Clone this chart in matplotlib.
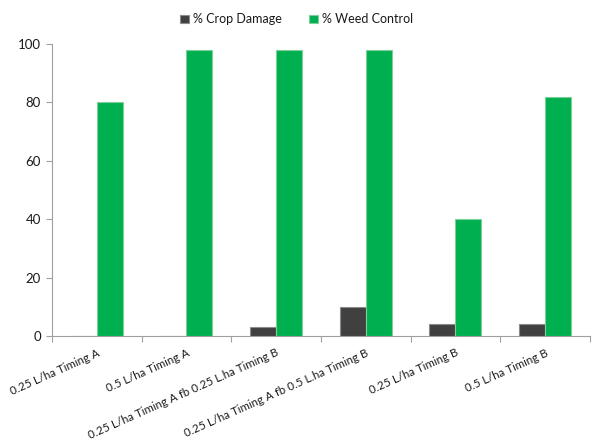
import matplotlib.pyplot as plt
import numpy as np

categories = [
    "0.25 L/ha Timing A",
    "0.5 L/ha Timing A",
    "0.25 L/ha Timing A fb 0.25 L.ha Timing B",
    "0.25 L/ha Timing A fb 0.5 L.ha Timing B",
    "0.25 L/ha Timing B",
    "0.5 L/ha Timing B",
]
crop_damage = [0, 0, 3, 10, 4, 4]
weed_control = [80, 98, 98, 98, 40, 82]

plt.rcParams["font.family"] = ["Lato", "DejaVu Sans"]
plt.rcParams["text.color"] = "#1a1a1a"

fig = plt.figure(figsize=(5.93, 4.41), dpi=100)
ax = fig.add_axes([0.0877, 0.238, 0.907, 0.662])

x = np.arange(len(categories))
width = 0.29

ax.bar(x - width / 2, crop_damage, width, color="#404040", edgecolor="#8c8c8c",
       linewidth=0.8, label="% Crop Damage", zorder=3)
ax.bar(x + width / 2, weed_control, width, color="#00b050", edgecolor="#7fcf9a",
       linewidth=0.8, label="% Weed Control", zorder=3)

ax.set_xlim(-0.5, len(categories) - 0.5)
ax.set_ylim(0, 100)
ax.set_yticks([0, 20, 40, 60, 80, 100])
ax.set_xticks(np.arange(-0.5, len(categories), 1.0))
ax.set_xticklabels([])
ax.set_xticks(x, minor=True)
ax.set_xticklabels(categories, minor=True, rotation=24, ha="right",
                   rotation_mode="anchor", fontsize=8.3, color="#1a1a1a")
ax.tick_params(axis="x", which="minor", length=0, pad=8)
ax.tick_params(axis="x", which="major", length=4, color="#a0a0a0", direction="out")
ax.tick_params(axis="y", length=4, color="#a0a0a0", labelsize=9.5, pad=4,
               labelcolor="#1a1a1a")

for spine in ["top", "right"]:
    ax.spines[spine].set_visible(False)
ax.spines["left"].set_color("#a0a0a0")
ax.spines["bottom"].set_color("#a0a0a0")

fig.legend(loc="upper center", bbox_to_anchor=(0.5, 0.995), ncol=2, frameon=False,
           fontsize=9, handlelength=0.7, handleheight=0.7, handletextpad=0.3,
           columnspacing=2.2)

fig.savefig("out.png", dpi=100)
